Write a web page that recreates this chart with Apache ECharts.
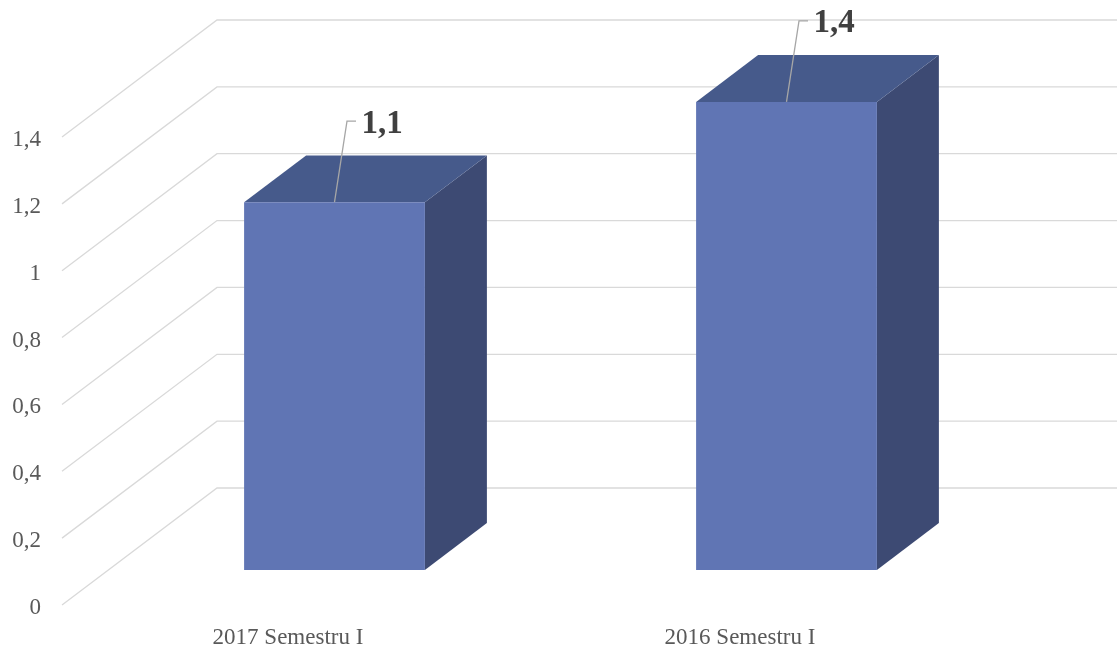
<!DOCTYPE html>
<html><head><meta charset="utf-8">
<script src="https://cdn.jsdelivr.net/npm/echarts@6/dist/echarts.min.js"></script>
<style>html,body{margin:0;padding:0;background:#fff}#c{width:1117px;height:654px}</style>
</head><body><div id="c"></div>
<script>
const categories = ['2017 Semestru I', '2016 Semestru I'];
const values = [1.1, 1.4];
const yTicks = [0, 0.2, 0.4, 0.6, 0.8, 1, 1.2, 1.4];

const WALL_DX = 155, WALL_DY = -117;
const BAR_FRONT = 0.3, BAR_BACK = 0.7, BAR_W = 0.4;
const fmt = v => String(v).replace('.', ',');

const chart = echarts.init(document.getElementById('c'));
chart.setOption({
  animation: false,
  grid: {left: 62, right: 151, top: 137, bottom: 49},
  xAxis: {
    type: 'category', data: categories,
    axisLine: {show: false}, axisTick: {show: false}, splitLine: {show: false},
    axisLabel: {fontFamily: 'Liberation Serif', fontSize: 23, color: '#595959', margin: 21}
  },
  yAxis: {
    type: 'value', min: 0, max: 1.4, interval: 0.2,
    axisLine: {show: false}, axisTick: {show: false}, splitLine: {show: false},
    axisLabel: {formatter: fmt, fontFamily: 'Liberation Serif', fontSize: 23, color: '#595959', margin: 21, verticalAlign: 'top', lineHeight: 6}
  },
  series: [
    {
      type: 'custom', silent: true, clip: false, z: 1,
      data: yTicks.map(v => [0, v]),
      renderItem: function (params, api) {
        const cs = params.coordSys;
        const y = api.coord([0, api.value(1)])[1];
        const x0 = cs.x;
        return {
          type: 'polyline',
          shape: {points: [[x0, y], [x0 + WALL_DX, y + WALL_DY], [x0 + cs.width + WALL_DX, y + WALL_DY]]},
          style: {stroke: '#D9D9D9', lineWidth: 1.3, fill: null}
        };
      }
    },
    {
      type: 'custom', silent: true, clip: false, z: 2,
      data: values.map((v, i) => [i, v]),
      renderItem: function (params, api) {
        const c = api.value(0), v = api.value(1);
        const base = api.coord([c, 0]), top = api.coord([c, v]);
        const bw = api.size([1, 0])[0] * BAR_W;
        const fx = WALL_DX * BAR_FRONT, fy = WALL_DY * BAR_FRONT;
        const dx = WALL_DX * (BAR_BACK - BAR_FRONT), dy = WALL_DY * (BAR_BACK - BAR_FRONT);
        const L = base[0] - bw / 2 + fx, R = base[0] + bw / 2 + fx;
        const T = top[1] + fy, B = base[1] + fy;
        const cx = (L + R) / 2;
        const ly = T - 81;
        return {
          type: 'group',
          children: [
            {type: 'polygon', shape: {points: [[R, T], [R + dx, T + dy], [R + dx, B + dy], [R, B]]}, style: {fill: '#3D4A73'}},
            {type: 'polygon', shape: {points: [[L, T], [L + dx, T + dy], [R + dx, T + dy], [R, T]]}, style: {fill: '#465A8B'}},
            {type: 'rect', shape: {x: L, y: T, width: R - L, height: B - T}, style: {fill: '#6075B4'}},
            {type: 'polyline', shape: {points: [[cx, T], [cx + 12.5, ly], [cx + 21.5, ly]]}, style: {stroke: '#A6A6A6', lineWidth: 1.3, fill: null}},
            {type: 'text', style: {text: fmt(v), x: cx + 27, y: ly + 3, fill: '#404040', font: 'bold 33px "Liberation Serif"', align: 'left', verticalAlign: 'middle'}}
          ]
        };
      }
    }
  ]
});
</script></body></html>
